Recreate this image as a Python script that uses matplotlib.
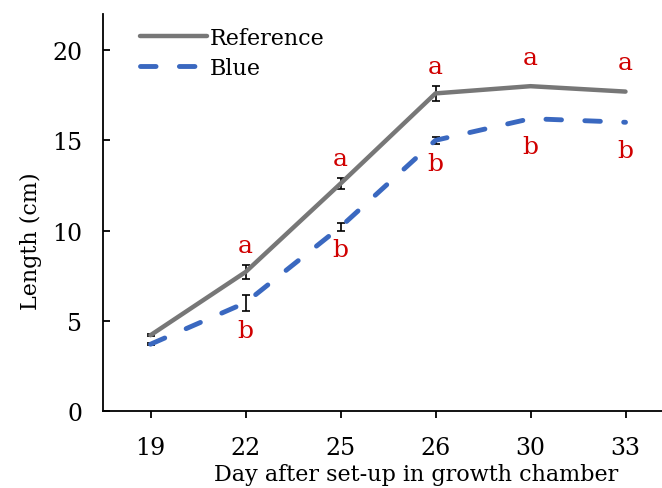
import numpy as np
import matplotlib
matplotlib.use("Agg")
import matplotlib.pyplot as plt

plt.rcParams['font.family'] = ['DejaVu Serif']

days = ['19', '22', '25', '26', '30', '33']
ref_vals = [4.2, 7.7, 12.6, 17.6, 18.0, 17.7]
ref_err = [0.05, 0.4, 0.3, 0.4, np.nan, np.nan]
blue_vals = [3.7, 6.0, 10.2, 15.0, 16.2, 16.0]
blue_err = [0.05, 0.45, 0.2, 0.2, np.nan, np.nan]
ref_letters = ['', 'a', 'a', 'a', 'a', 'a']
blue_letters = ['', 'b', 'b', 'b', 'b', 'b']

fs = 16
fig = plt.figure(figsize=(6.62, 4.89), dpi=100)
ax = fig.add_axes([103 / 662, 77 / 489, 570 / 662, 397 / 489])

x = np.arange(len(days))
ax.plot(x, ref_vals, color='#777777', lw=3.2, solid_capstyle='round', label='Reference', zorder=3)
ax.plot(x, blue_vals, color='#3a68c0', lw=3.5, ls=(0, (3.2, 4.8)), dash_capstyle='round', label='Blue', zorder=3)
ax.errorbar(x, ref_vals, yerr=ref_err, fmt='none', ecolor='black', elinewidth=1.2, capsize=3, capthick=1.2, zorder=2)
ax.errorbar(x, blue_vals, yerr=blue_err, fmt='none', ecolor='black', elinewidth=1.2, capsize=3, capthick=1.2, zorder=2)

for i in range(len(days)):
    if ref_letters[i]:
        e = 0 if np.isnan(ref_err[i]) else ref_err[i]
        off = 14 if e > 0 else 21
        ax.annotate(ref_letters[i], (x[i], ref_vals[i] + e), xytext=(0, off),
                    textcoords='offset points', ha='center', va='center', color='#d00000', fontsize=18)
    if blue_letters[i]:
        e = 0 if np.isnan(blue_err[i]) else blue_err[i]
        off = 14 if e > 0 else 20
        ax.annotate(blue_letters[i], (x[i], blue_vals[i] - e), xytext=(0, -off),
                    textcoords='offset points', ha='center', va='center', color='#d00000', fontsize=18)

ax.set_xlim(-0.5, 5.5)
ax.set_ylim(0, 22)
ax.set_xticks(x)
ax.set_xticklabels(days)
ax.set_yticks([0, 5, 10, 15, 20])
ax.tick_params(axis='y', direction='in', length=5, width=1.3, pad=15, labelsize=17)
ax.tick_params(axis='x', direction='out', length=5, width=1.3, pad=13, labelsize=17)
for s in ['top', 'right']:
    ax.spines[s].set_visible(False)
for s in ['left', 'bottom']:
    ax.spines[s].set_linewidth(1.3)

ax.set_xlabel('Day after set-up in growth chamber', fontsize=fs, labelpad=0)
ax.xaxis.set_label_coords(0.55, -0.13)
ax.set_ylabel('Length (cm)', fontsize=fs)
ax.yaxis.set_label_coords(-0.107, 0.43)
ax.legend(loc='upper left', bbox_to_anchor=(37 / 570, 1.0 - 13 / 397), frameon=False, fontsize=fs,
          handlelength=3.0, handletextpad=0.15, labelspacing=0.35, borderaxespad=0, borderpad=0)

fig.savefig('out.png', dpi=100)
